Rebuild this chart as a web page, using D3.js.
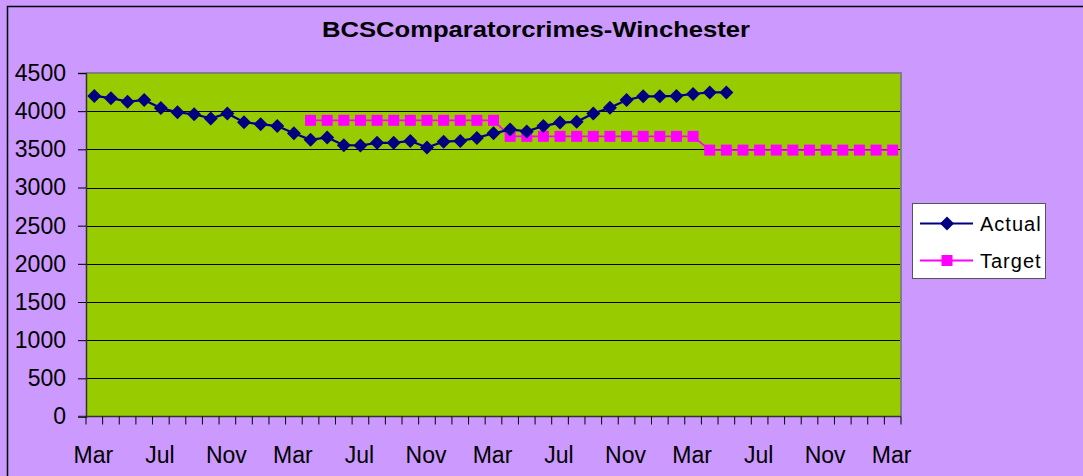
<!DOCTYPE html>
<html>
<head>
<meta charset="utf-8">
<script src="https://cdn.jsdelivr.net/npm/d3@7"></script>
<style>
  body { margin: 0; background: #CC99FF; }
  svg { display: block; font-family: "Liberation Sans", Arial, sans-serif; }
</style>
</head>
<body>
<div class="canvas"></div>
<script>
const months = ['Mar','Apr','May','Jun','Jul','Aug','Sep','Oct','Nov','Dec','Jan','Feb',
  'Mar','Apr','May','Jun','Jul','Aug','Sep','Oct','Nov','Dec','Jan','Feb',
  'Mar','Apr','May','Jun','Jul','Aug','Sep','Oct','Nov','Dec','Jan','Feb',
  'Mar','Apr','May','Jun','Jul','Aug','Sep','Oct','Nov','Dec','Jan','Feb',
  'Mar']

const actual = [4200, 4170, 4125, 4145, 4040, 3985, 3960, 3905, 3970, 3855, 3830, 3805,
  3710, 3625, 3655, 3555, 3550, 3585, 3585, 3610, 3525, 3600, 3610, 3650,
  3710, 3760, 3735, 3805, 3850, 3860, 3970, 4045, 4145, 4195, 4195, 4200,
  4225, 4245, 4245]

const target = [null, null, null, null, null, null, null, null, null, null, null, null,
  null, 3880, 3880, 3880, 3880, 3880, 3880, 3880, 3880, 3880, 3880, 3880,
  3880, 3670, 3670, 3670, 3670, 3670, 3670, 3670, 3670, 3670, 3670, 3670,
  3670, 3490, 3490, 3490, 3490, 3490, 3490, 3490, 3490, 3490, 3490, 3490,
  3490]

const yTicks = [0, 500, 1000, 1500, 2000, 2500, 3000, 3500, 4000, 4500]

const width = 1083, height = 476
const plot = {left: 86, right: 901, top: 73, bottom: 416.5}

const svg = d3.select('.canvas').append('svg').attr('width', width).attr('height', height)

svg.append('rect').attr('width', width).attr('height', height).attr('fill', '#CC99FF')
svg.append('rect').attr('x', 7.5).attr('y', 6.5).attr('width', width).attr('height', height)
  .attr('fill', 'none').attr('stroke', '#000').attr('stroke-width', 1.5)

// title
svg.append('text')
  .attr('x', 536).attr('y', 37)
  .attr('text-anchor', 'middle')
  .attr('font-size', 22).attr('font-weight', 'bold')
  .attr('textLength', 428).attr('lengthAdjust', 'spacingAndGlyphs')
  .text('BCSComparatorcrimes-Winchester')

const x = d3.scaleBand()
  .domain(months.map((m, i) => i))
  .range([plot.left, plot.right])
  .padding(0)

const y = d3.scaleLinear()
  .domain([0, 4500])
  .range([plot.bottom, plot.top])

const cx = i => x(i) + x.bandwidth() / 2

// plot area
svg.append('rect')
  .attr('x', plot.left).attr('y', plot.top)
  .attr('width', plot.right - plot.left).attr('height', plot.bottom - plot.top)
  .attr('fill', '#99CC00')

// gridlines
svg.append('g').selectAll('line')
  .data(yTicks.filter(d => d > 0 && d < 4500))
  .enter().append('line')
    .attr('x1', plot.left).attr('x2', plot.right)
    .attr('y1', d => Math.round(y(d)) + 0.5).attr('y2', d => Math.round(y(d)) + 0.5)
    .attr('stroke', '#000').attr('stroke-width', 1.2)

// plot border top/right
svg.append('path')
  .attr('d', `M${plot.left},${plot.top}H${plot.right}V${plot.bottom}`)
  .attr('fill', 'none').attr('stroke', '#808080').attr('stroke-width', 2)

// y axis
const yAxis = d3.axisLeft(y).tickValues(yTicks).tickFormat(d3.format('d')).tickSize(8).tickPadding(12)
const yAxisG = svg.append('g').attr('transform', `translate(${plot.left},0)`).call(yAxis)
yAxisG.select('.domain').attr('stroke', '#333').attr('stroke-width', 1.5)
yAxisG.selectAll('.tick line').attr('stroke', '#000')
yAxisG.selectAll('text').attr('font-size', 23).attr('fill', '#000')
  .attr('font-family', '"Liberation Sans", Arial, sans-serif')

// x axis: ticks between categories, labels every 4th
const xAxisG = svg.append('g')
xAxisG.append('line')
  .attr('x1', plot.left - 8).attr('x2', plot.right)
  .attr('y1', plot.bottom).attr('y2', plot.bottom)
  .attr('stroke', '#333').attr('stroke-width', 1.5)
xAxisG.selectAll('line.tk')
  .data(months.map((m, i) => i).concat([months.length]))
  .enter().append('line').attr('class', 'tk')
    .attr('x1', i => i < months.length ? x(i) : plot.right)
    .attr('x2', i => i < months.length ? x(i) : plot.right)
    .attr('y1', plot.bottom).attr('y2', plot.bottom + 8)
    .attr('stroke', '#000').attr('stroke-width', 1)
xAxisG.selectAll('text')
  .data(months.map((m, i) => ({m, i})).filter(d => d.i % 4 === 0))
  .enter().append('text')
    .attr('x', d => cx(d.i) - 1)
    .attr('y', 463)
    .attr('text-anchor', 'middle')
    .attr('font-size', 23)
    .text(d => d.m)

// lines
const line = d3.line()
  .defined(d => d.v !== null)
  .x(d => cx(d.i))
  .y(d => y(d.v))

const targetData = target.map((v, i) => ({v, i}))
const actualData = actual.map((v, i) => ({v, i}))

svg.append('path').datum(targetData)
  .attr('d', line).attr('fill', 'none').attr('stroke', '#FF00FF').attr('stroke-width', 1.8)
svg.append('g').selectAll('rect')
  .data(targetData.filter(d => d.v !== null))
  .enter().append('rect')
    .attr('x', d => cx(d.i) - 5.5).attr('y', d => y(d.v) - 5.5)
    .attr('width', 11).attr('height', 11)
    .attr('fill', '#FF00FF')

svg.append('path').datum(actualData)
  .attr('d', line).attr('fill', 'none').attr('stroke', '#000080').attr('stroke-width', 2.2)
const diamond = 'M0,-7L7,0L0,7L-7,0Z'
svg.append('g').selectAll('path')
  .data(actualData)
  .enter().append('path')
    .attr('d', diamond)
    .attr('transform', d => `translate(${cx(d.i)},${y(d.v)})`)
    .attr('fill', '#000080')

// legend
const legend = svg.append('g')
legend.append('rect')
  .attr('x', 912.5).attr('y', 203.5).attr('width', 133).attr('height', 75)
  .attr('fill', '#fff').attr('stroke', '#555').attr('stroke-width', 1)
const items = [
  {name: 'Actual', color: '#000080', y: 223.5, shape: 'diamond'},
  {name: 'Target', color: '#FF00FF', y: 260.5, shape: 'square'}
]
items.forEach(it => {
  legend.append('line').attr('x1', 920).attr('x2', 973).attr('y1', it.y).attr('y2', it.y)
    .attr('stroke', it.color).attr('stroke-width', 1.8)
  if (it.shape === 'diamond') {
    legend.append('path').attr('d', diamond).attr('transform', `translate(947,${it.y})`).attr('fill', it.color)
  } else {
    legend.append('rect').attr('x', 941.5).attr('y', it.y - 5.5).attr('width', 11).attr('height', 11).attr('fill', it.color)
  }
  legend.append('text').attr('x', 980).attr('y', it.y + 7)
    .attr('font-size', 20).attr('letter-spacing', 1)
    .text(it.name)
})
</script>
</body>
</html>
